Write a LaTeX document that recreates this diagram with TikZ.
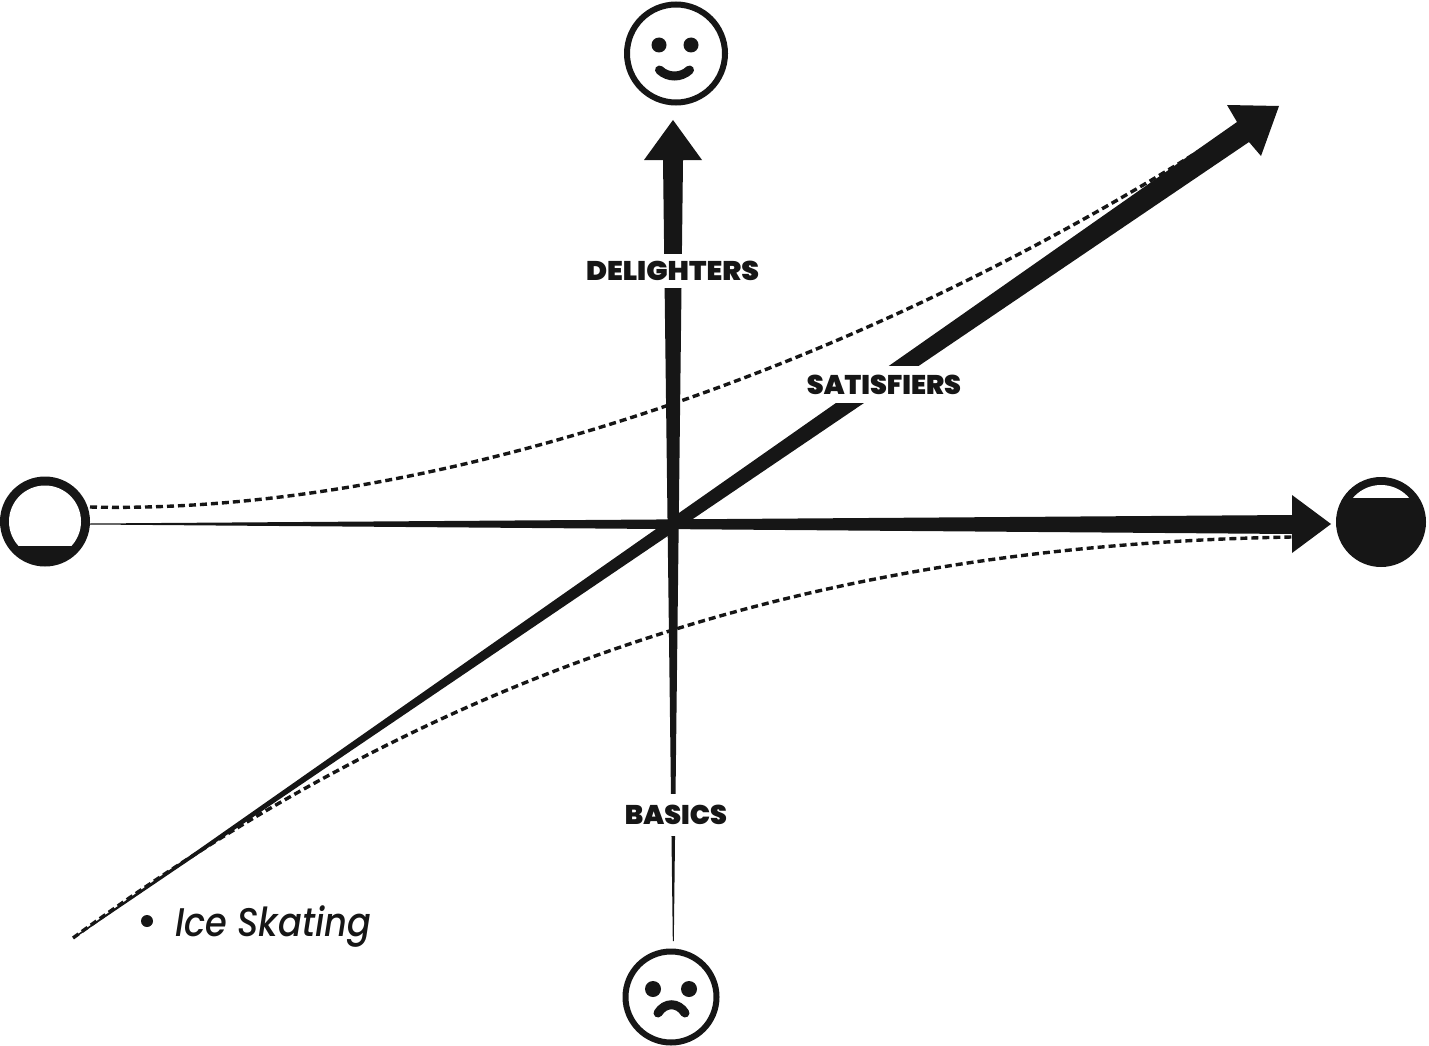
\documentclass[tikz,border=0pt]{standalone}
\usepackage{fontspec}
\newfontfamily\labfont{Poppins}[UprightFont=* Black]
\newfontfamily\notefont{Poppins}[UprightFont=* Medium Italic]
\definecolor{ink}{HTML}{161616}
\tikzset{
  axislabel/.style={fill=white,text=ink,font=\labfont\fontsize{27}{27}\selectfont,inner xsep=0pt,inner ysep=0pt},
  dashcurve/.style={draw=ink,line width=3.4pt,dash pattern=on 7pt off 4pt},
  solidfill/.style={fill=ink,draw=none},
  facering/.style={circle,draw=ink,fill=white,inner sep=0pt,outer sep=0pt},
  facefeature/.style={draw=ink,line width=9pt,line cap=round},
}
\begin{document}
\begin{tikzpicture}[x=1pt,y=-1pt]
\useasboundingbox (0,0) rectangle (1429,1046);
% anchors
\coordinate (lowA) at (90,507);
\coordinate (highA) at (1240,125);
\coordinate (lowB) at (73,938);
\coordinate (highB) at (1292,537);
% dashed curves
\draw[dashcurve] (lowA) .. controls (420,515) and (850,378) .. (highA);
\draw[dashcurve] (lowB) .. controls (450,662) and (830,545) .. (highB);
% horizontal arrow
\fill[solidfill] (90,523.5) -- (1292,515) -- (1292,495) -- (1331,524) -- (1292,553) -- (1292,534) -- (90,524.5) -- cycle;
% vertical arrow
\fill[solidfill] (663,160) -- (644,160) -- (673,120) -- (702,160) -- (683,160) -- (673.8,941) -- (672.8,941) -- cycle;
% diagonal arrow
\fill[solidfill] (73,937.5) -- (1237,122) -- (1227,105) -- (1279,106) -- (1261,156) -- (1249,142) -- (74,938.5) -- cycle;
% end discs
\node[circle,fill=ink,minimum size=90pt,inner sep=0pt] (empty) at (45,521.5) {};
\fill[white] (45,521.5) circle (36pt);
\begin{scope}
  \clip (0,546) rectangle (90,570);
  \fill[ink] (45,521.5) circle (37pt);
\end{scope}
\node[circle,fill=ink,minimum size=90pt,inner sep=0pt] (full) at (1381,522) {};
\begin{scope}
  \clip (1340,480) rectangle (1420,497);
  \fill[white] (1381,522) circle (37pt);
\end{scope}
% happy face
\node[facering,line width=6pt,minimum size=98pt] (happy) at (676,53.5) {};
\fill[ink] (659,45) circle (7.5pt) (691,45) circle (7.5pt);
\draw[facefeature] (659.5,70) .. controls (668,78) and (681,78) .. (689.5,70);
% sad face
\node[facering,line width=6pt,minimum size=91pt] (sad) at (671,997) {};
\fill[ink] (653,989) circle (8pt) (689,989) circle (8pt);
\draw[facefeature] (658,1013) .. controls (665,1002) and (678,1002) .. (685,1013);
% labels
\node[axislabel,minimum height=34pt,xscale=1.05] (delighters) at (672.5,271) {DELIGHTERS};
\node[axislabel,minimum height=37pt] (satisfiers) at (884,384.5) {SATISFIERS};
\node[axislabel,minimum height=42pt] (basics) at (676,815) {BASICS};
\fill[ink] (147,921) circle (6pt);
\node[anchor=base west,text=ink,inner sep=0pt,xscale=.88,font=\notefont\fontsize{40}{40}\selectfont] (note) at (175,936) {Ice Skating};
\end{tikzpicture}
\end{document}
